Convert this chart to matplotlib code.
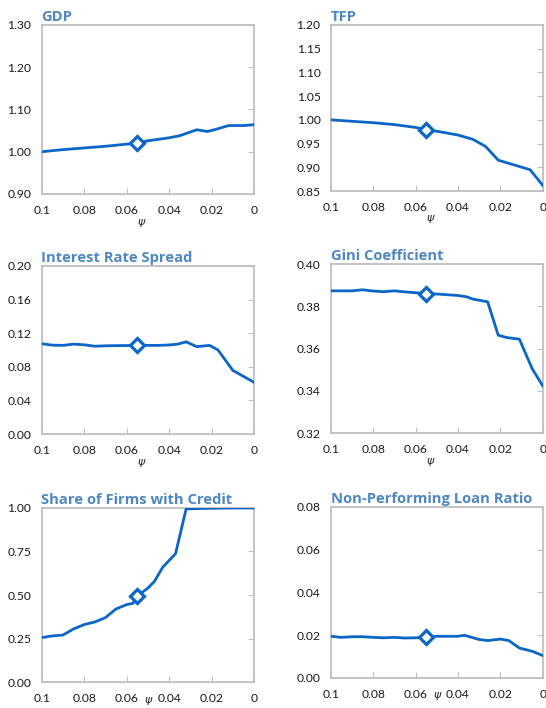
import matplotlib
matplotlib.use("Agg")
import matplotlib.pyplot as plt
import numpy as np

# psi grid points and series values for each panel
psi_gdp = [0.1, 0.09, 0.08, 0.07, 0.06, 0.055, 0.05, 0.04, 0.035, 0.027, 0.022, 0.018, 0.012, 0.005, 0.0]
gdp = [1.000, 1.005, 1.009, 1.013, 1.018, 1.020, 1.026, 1.033, 1.038, 1.052, 1.048, 1.053, 1.062, 1.062, 1.064]

psi_tfp = [0.1, 0.09, 0.08, 0.07, 0.06, 0.055, 0.05, 0.04, 0.033, 0.027, 0.021, 0.015, 0.006, 0.0]
tfp = [1.000, 0.997, 0.994, 0.990, 0.984, 0.979, 0.976, 0.968, 0.959, 0.944, 0.915, 0.907, 0.895, 0.862]

psi_spread = [0.1, 0.095, 0.09, 0.085, 0.08, 0.075, 0.07, 0.065, 0.06, 0.055, 0.05, 0.045, 0.04,
              0.036, 0.032, 0.027, 0.021, 0.017, 0.01, 0.0]
spread = [0.1075, 0.1058, 0.1055, 0.1070, 0.1062, 0.1045, 0.1050, 0.1052, 0.1053, 0.1055, 0.1055,
          0.1055, 0.1060, 0.1070, 0.1097, 0.1040, 0.1055, 0.1000, 0.0757, 0.0615]

psi_gini = [0.1, 0.09, 0.085, 0.08, 0.075, 0.07, 0.065, 0.06, 0.055, 0.05, 0.04, 0.036, 0.033,
            0.026, 0.021, 0.017, 0.011, 0.005, 0.0]
gini = [0.3873, 0.3873, 0.3878, 0.3872, 0.3869, 0.3873, 0.3868, 0.3864, 0.3860, 0.3858, 0.3851,
        0.3845, 0.3834, 0.3821, 0.3663, 0.3652, 0.3644, 0.3505, 0.3423]

psi_share = [0.1, 0.095, 0.09, 0.085, 0.08, 0.075, 0.07, 0.065, 0.06, 0.057, 0.055, 0.05, 0.047,
             0.043, 0.037, 0.032, 0.022, 0.01, 0.0]
share = [0.255, 0.265, 0.270, 0.305, 0.330, 0.345, 0.370, 0.420, 0.445, 0.452, 0.494, 0.540, 0.577,
         0.660, 0.737, 0.995, 0.998, 1.000, 1.000]

psi_npl = [0.1, 0.095, 0.09, 0.085, 0.08, 0.075, 0.07, 0.065, 0.06, 0.055, 0.05, 0.045, 0.04,
           0.037, 0.03, 0.026, 0.02, 0.016, 0.011, 0.005, 0.0]
npl = [0.0195, 0.0190, 0.0193, 0.0193, 0.0190, 0.0188, 0.0190, 0.0187, 0.0188, 0.0190, 0.0195,
       0.0195, 0.0195, 0.0200, 0.0180, 0.0175, 0.0182, 0.0175, 0.0140, 0.0125, 0.0105]

baseline_psi = 0.055

titles = ["GDP", "TFP", "Interest Rate Spread", "Gini Coefficient",
          "Share of Firms with Credit", "Non-Performing Loan Ratio"]
x_ticks = [0.1, 0.08, 0.06, 0.04, 0.02, 0.0]
x_tick_labels = ["0.1", "0.08", "0.06", "0.04", "0.02", "0"]
y_ticks = [
    [0.90, 1.00, 1.10, 1.20, 1.30],
    [0.85, 0.90, 0.95, 1.00, 1.05, 1.10, 1.15, 1.20],
    [0.00, 0.04, 0.08, 0.12, 0.16, 0.20],
    [0.32, 0.34, 0.36, 0.38, 0.40],
    [0.00, 0.25, 0.50, 0.75, 1.00],
    [0.00, 0.02, 0.04, 0.06, 0.08],
]

series = [(psi_gdp, gdp), (psi_tfp, tfp), (psi_spread, spread),
          (psi_gini, gini), (psi_share, share), (psi_npl, npl)]

# axes rectangles in figure fractions [left, bottom, width, height]
rects = [
    [0.0764, 0.726, 0.389, 0.2387],
    [0.606, 0.7302, 0.388, 0.2345],
    [0.0764, 0.387, 0.389, 0.2373],
    [0.606, 0.3884, 0.388, 0.2387],
    [0.0764, 0.0367, 0.389, 0.2458],
    [0.606, 0.0424, 0.388, 0.2415],
]

line_color = "#0A66C8"
title_color = "#4F87C2"
frame_color = "#BFBFBF"

plt.rcParams["font.family"] = ["Lato", "DejaVu Sans"]

fig = plt.figure(figsize=(5.46, 7.08), dpi=100)
fig.patch.set_facecolor("white")

for i, ((xs, ys), rect) in enumerate(zip(series, rects)):
    ax = fig.add_axes(rect)
    ax.plot(xs, ys, color=line_color, lw=2.0, solid_joinstyle="round", zorder=3)
    j = xs.index(baseline_psi)
    ax.plot([xs[j]], [ys[j]], marker="D", ms=7.5, mfc="white", mec=line_color, mew=2.3,
            color=line_color, zorder=4)

    ax.set_xlim(0.1, 0.0)
    ax.set_ylim(y_ticks[i][0], y_ticks[i][-1])
    ax.set_xticks(x_ticks)
    ax.set_xticklabels(x_tick_labels)
    ax.set_yticks(y_ticks[i])
    ax.set_yticklabels([f"{v:.2f}" for v in y_ticks[i]])

    for sp in ax.spines.values():
        sp.set_color(frame_color)
        sp.set_linewidth(1.3)

    ax.tick_params(axis="y", left=False, right=True, direction="in", length=4,
                   color=frame_color, labelsize=8.7, labelcolor="#1a1a1a", pad=7.5)
    ax.tick_params(axis="x", bottom=True, direction="in", length=4,
                   color=frame_color, labelsize=8.7, labelcolor="#1a1a1a", pad=8)

    # psi label: bottom row sits a little higher so it stays inside the figure
    bottom_row = i >= 4
    ax.set_xlabel("ψ", fontsize=8, style="italic", family="DejaVu Sans", color="#222222")
    if bottom_row:
        ax.xaxis.set_label_coords(0.5, -0.072)
    else:
        ax.xaxis.set_label_coords(0.47, -0.135)
    ax.set_title(titles[i], loc="left", fontsize=10.6, fontweight="bold", color=title_color,
                 family=["Open Sans", "DejaVu Sans"], pad=3, x=-0.005 if i % 2 == 0 else 0.0)

fig.savefig("out.png", dpi=100, facecolor="white")
